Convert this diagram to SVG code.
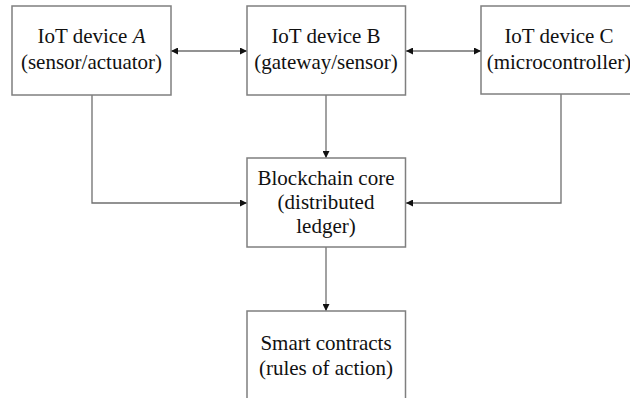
<svg xmlns="http://www.w3.org/2000/svg" width="630" height="398" viewBox="0 0 630 398">
  <style>
    .box { fill: #ffffff; stroke: #7f7f7f; stroke-width: 1.5; }
    .lbl { font-family: "Liberation Serif", "Times New Roman", serif; font-size: 21px; fill: #111111; text-anchor: middle; }
    .wire { fill: none; stroke: #6f6f6f; stroke-width: 1.3; }
  </style>
  <defs>
    <marker id="tip" viewBox="0 0 10 10" refX="10" refY="5" markerWidth="7" markerHeight="7" markerUnits="userSpaceOnUse" orient="auto-start-reverse">
      <path d="M0,0 L10,5 L0,10 z" fill="#111111"/>
    </marker>
  </defs>
  <rect width="630" height="398" fill="#ffffff"/>

  <g id="connectors">
    <line class="wire" x1="171" y1="51" x2="247" y2="51" marker-start="url(#tip)" marker-end="url(#tip)"/>
    <line class="wire" x1="406" y1="51" x2="481" y2="51" marker-start="url(#tip)" marker-end="url(#tip)"/>
    <polyline class="wire" points="92,95 92,203 247,203" marker-end="url(#tip)"/>
    <polyline class="wire" points="561,94 561,203 406,203" marker-end="url(#tip)"/>
    <line class="wire" x1="326" y1="95" x2="326" y2="158" marker-end="url(#tip)"/>
    <line class="wire" x1="326" y1="247" x2="326" y2="311" marker-end="url(#tip)"/>
  </g>

  <g id="device-a">
    <rect class="box" x="12" y="6" width="159" height="89"/>
    <text class="lbl" x="91.5" y="43">IoT device <tspan font-style="italic">A</tspan></text>
    <text class="lbl" x="91.5" y="69">(sensor/actuator)</text>
  </g>

  <g id="device-b">
    <rect class="box" x="247" y="6" width="158.5" height="89"/>
    <text class="lbl" x="326" y="43">IoT device B</text>
    <text class="lbl" x="326" y="69">(gateway/sensor)</text>
  </g>

  <g id="device-c">
    <rect class="box" x="481" y="6" width="156" height="88"/>
    <text class="lbl" x="559" y="43">IoT device C</text>
    <text class="lbl" x="559" y="69">(microcontroller)</text>
  </g>

  <g id="blockchain-core">
    <rect class="box" x="247" y="158" width="158.5" height="89"/>
    <text class="lbl" x="326" y="185">Blockchain core</text>
    <text class="lbl" x="326" y="209">(distributed</text>
    <text class="lbl" x="326" y="233">ledger)</text>
  </g>

  <g id="smart-contracts">
    <rect class="box" x="247" y="311" width="158.5" height="100"/>
    <text class="lbl" x="326" y="350">Smart contracts</text>
    <text class="lbl" x="326" y="375">(rules of action)</text>
  </g>
</svg>
